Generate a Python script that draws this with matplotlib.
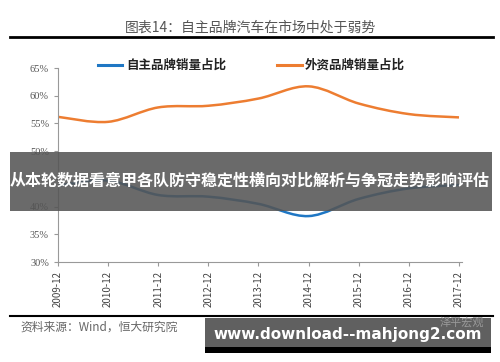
import matplotlib.pyplot as plt
import matplotlib.patches as patches
from matplotlib.path import Path
import numpy as np

plt.rcParams['font.family'] = ['Noto Sans CJK SC', 'DejaVu Sans']

years = ['2009-12', '2010-12', '2011-12', '2012-12', '2013-12',
         '2014-12', '2015-12', '2016-12', '2017-12']
foreign_share = [56.2, 55.3, 57.9, 58.2, 59.5, 61.7, 58.6, 56.7, 56.1]
domestic_share = [43.8, 44.7, 42.1, 41.8, 40.5, 38.3, 41.4, 43.3, 43.9]
yticks = [30, 35, 40, 45, 50, 55, 60, 65]

title = '图表14：自主品牌汽车在市场中处于弱势'
legend_names = ['自主品牌销量占比', '外资品牌销量占比']
source = '资料来源：Wind，恒大研究院'
banner = '从本轮数据看意甲各队防守稳定性横向对比解析与争冠走势影响评估'
site = 'www.download--mahjong2.com'

BLUE = '#1f77c4'
ORANGE = '#ed7d31'


def smooth_path(xs, ys, k=1/6):
    # catmull-rom style bezier through the points, like excel's smoothed line
    pts = np.column_stack([xs, ys]).astype(float)
    verts = [pts[0]]
    codes = [Path.MOVETO]
    n = len(pts)
    for i in range(n - 1):
        p0 = pts[max(i - 1, 0)]
        p1 = pts[i]
        p2 = pts[i + 1]
        p3 = pts[min(i + 2, n - 1)]
        c1 = p1 + (p2 - p0) * k
        c2 = p2 - (p3 - p1) * k
        verts += [c1, c2, p2]
        codes += [Path.CURVE4] * 3
    return Path(verts, codes)


fig = plt.figure(figsize=(5, 3.62), dpi=100)
ax = fig.add_axes([0.116, 0.276, 0.808, 0.536])

x = np.arange(len(years))
for vals, col in [(foreign_share, ORANGE), (domestic_share, BLUE)]:
    ax.add_patch(patches.PathPatch(smooth_path(x, vals), fill=False,
                                   edgecolor=col, lw=1.8))

ax.set_xlim(0, 8.06)
ax.set_ylim(30, 65)
ax.set_yticks(yticks)
ax.set_yticklabels([f'{v}%' for v in yticks], fontsize=7.5, color='#555555',
                   family=['Liberation Serif', 'DejaVu Serif'])
ax.set_xticks(x)
ax.set_xticklabels(years, rotation=90, fontsize=7, color='#444444')
for s in ['top', 'right']:
    ax.spines[s].set_visible(False)
for s in ['left', 'bottom']:
    ax.spines[s].set_color('#999999')
    ax.spines[s].set_linewidth(0.8)
ax.tick_params(axis='both', colors='#999999', length=3, width=0.8)
ax.tick_params(axis='x', labelcolor='#444444')
ax.tick_params(axis='y', labelcolor='#555555')

# legend at top
fig.add_artist(plt.Line2D([98/500, 122/500], [1-65/362]*2, color=BLUE, lw=2.2))
fig.text(126/500, 1-65/362, legend_names[0], fontsize=9, fontweight='bold',
         va='center', ha='left', color='#222222')
fig.add_artist(plt.Line2D([277/500, 302/500], [1-65/362]*2, color=ORANGE, lw=2.2))
fig.text(305/500, 1-65/362, legend_names[1], fontsize=9, fontweight='bold',
         va='center', ha='left', color='#222222')

# title and rules
fig.text(0.5, 1-28/362, title, fontsize=10, ha='center', va='center',
         color='#555555')
fig.add_artist(plt.Line2D([10/500, 493/500], [1-37/362]*2, color='black', lw=2))
fig.add_artist(plt.Line2D([10/500, 493/500], [1-316/362]*2, color='black', lw=1.5))
fig.text(20/500, 1-327/362, source, fontsize=8.5, ha='left', va='center',
         color='#666666', style='italic')

# overlay banners
fig.add_artist(patches.Rectangle((10/500, 1-211/362), 482/500, 59/362,
                                 transform=fig.transFigure, color='#555555',
                                 alpha=0.88, lw=0, zorder=5))
fig.text(250/500, 1-181/362, banner, fontsize=11.55, fontweight='bold',
         color='white', ha='center', va='center', zorder=6)
fig.add_artist(patches.Rectangle((205/500, 1-347/362), 286/500, 29/362,
                                 transform=fig.transFigure, color='#606060',
                                 lw=0, zorder=5))
fig.add_artist(patches.Rectangle((205/500, 1-353/362), 286/500, 6/362,
                                 transform=fig.transFigure, color='black',
                                 lw=0, zorder=5))
fig.text(484/500, 1-322/362, '泽平宏观', fontsize=8, ha='right', va='center',
         color='#9a9a9a', zorder=6)
fig.text(348/500, 1-334/362, site, fontsize=11, fontweight='bold',
         color='white', ha='center', va='center', family='DejaVu Sans',
         zorder=6)

fig.savefig('out.png', dpi=100)
